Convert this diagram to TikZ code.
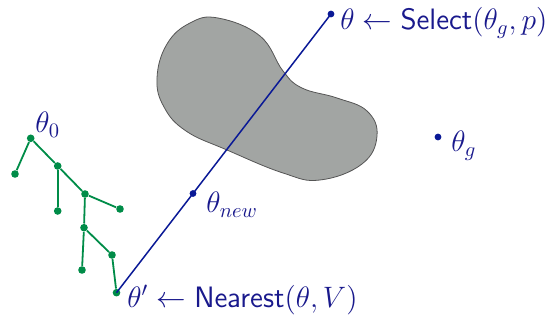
\documentclass[tikz,border=0pt]{standalone}
\usepackage{graphicx}
\usepackage{amsmath}
\definecolor{navyt}{RGB}{25,25,140}
\definecolor{navyl}{RGB}{10,25,150}
\definecolor{treeg}{RGB}{0,140,72}
\definecolor{blobfill}{RGB}{162,165,163}
\definecolor{blobline}{RGB}{85,85,85}
\newcommand{\lblsc}[1]{\scalebox{1.025}{#1}}
\begin{document}
\begin{tikzpicture}[x=0.5pt,y=-0.5pt,
  gdot/.style={circle,fill=treeg,inner sep=0pt,minimum size=3.8pt},
  bdot/.style={circle,fill=navyl,inner sep=0pt,minimum size=3.4pt},
  gedge/.style={treeg,line width=0.9pt},
  bedge/.style={navyl,line width=0.75pt},
  lbl/.style={inner sep=0pt,anchor=base west,text=navyt,font=\fontsize{14.4}{17}\selectfont}]
\useasboundingbox (0,0) rectangle (546,320);
% obstacle
\draw[fill=blobfill,draw=blobline,line width=0.4pt] plot[smooth cycle,tension=0.7] coordinates {
 (218,18) (260,36) (283,71) (302,88) (337,98) (367,111) (377,136) (362,164)
 (320,180) (283,173) (227,150) (186,131) (164,107) (157,78) (167,44) (190,23)};
% tree
\node[gdot] (r) at (30.7,138.3) {};
\node[gdot] (l1) at (15,174) {};
\node[gdot] (n2) at (57.7,166) {};
\node[gdot] (l2) at (57.7,211) {};
\node[gdot] (n3) at (85,194) {};
\node[gdot] (l3) at (120,209) {};
\node[gdot] (n4) at (84,227.7) {};
\node[gdot] (l4) at (82,270) {};
\node[gdot] (n5) at (112,255) {};
\node[gdot] (np) at (116.5,292.7) {};
\draw[gedge] (l1) -- (r) -- (n2) -- (n3) -- (n4) -- (n5) -- (np);
\draw[gedge] (n2) -- (l2);
\draw[gedge] (n3) -- (l3);
\draw[gedge] (n4) -- (l4);
% extension line
\node[bdot] (th) at (331,14) {};
\node[bdot] (tnew) at (193,193.5) {};
\node[bdot] (tg) at (438,137) {};
\draw[bedge] (np.center) -- (tnew.center) -- (th.center);
% labels
\node[lbl] (lt0) at (35,133) {\lblsc{$\theta_0$}};
\node[lbl] (lsel) at (340,30) {\lblsc{$\theta \leftarrow \mathsf{Select}(\theta_g, p)$}};
\node[lbl] (lnew) at (206,213) {\lblsc{$\theta_{new}$}};
\node[lbl] (lg) at (451,152) {\lblsc{$\theta_g$}};
\node[lbl] (lnear) at (127,307) {\lblsc{$\theta' \leftarrow \mathsf{Nearest}(\theta, V)$}};
\end{tikzpicture}
\end{document}
